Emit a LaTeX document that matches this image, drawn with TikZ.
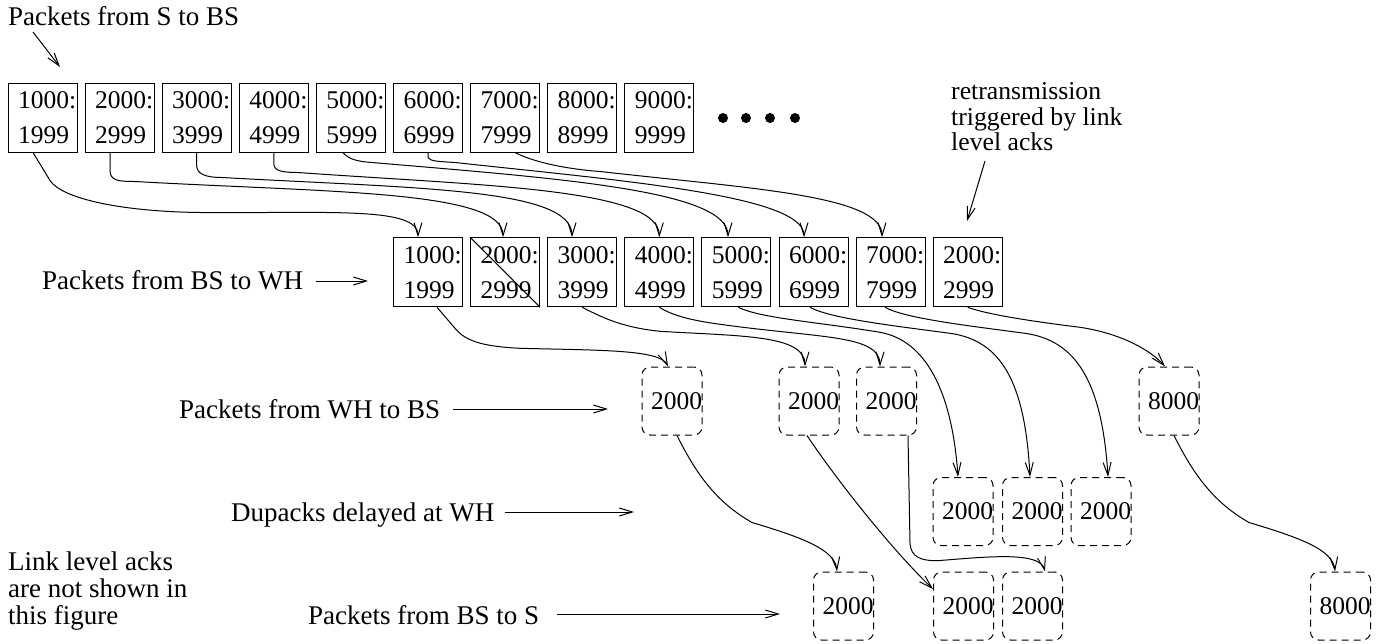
\documentclass[tikz,border=0pt]{standalone}
\usepackage{fontspec}
\setmainfont{Liberation Serif}
\usetikzlibrary{arrows.meta}
\begin{document}
\begin{tikzpicture}[x=1pt,y=-1pt,
  pkt/.style={draw, line width=1pt, minimum width=69pt, minimum height=69pt, inner sep=0pt,
    text width=49pt, align=left, font=\fontsize{25.5}{35}\selectfont},
  ack/.style={draw, dash pattern=on 7pt off 5pt, rounded corners=8pt, line width=1pt,
    minimum width=60pt, minimum height=68pt, inner sep=0pt, text width=42pt, align=left,
    font=\fontsize{25.5}{30}\selectfont},
  lbl/.style={font=\fontsize{27}{27}\selectfont, inner sep=0pt},
  arr/.style={line width=1pt, -{Straight Barb[length=13pt,width=8pt]}},
  dot/.style={fill=black},
]
\useasboundingbox (0,0) rectangle (1379,643);

% top row: packets from S to BS
\node[pkt] (t1) at (42.5,117.5) {1000:\\1999};
\node[pkt] (t2) at (119.6,117.5) {2000:\\2999};
\node[pkt] (t3) at (196.7,117.5) {3000:\\3999};
\node[pkt] (t4) at (273.8,117.5) {4000:\\4999};
\node[pkt] (t5) at (350.9,117.5) {5000:\\5999};
\node[pkt] (t6) at (428.0,117.5) {6000:\\6999};
\node[pkt] (t7) at (505.1,117.5) {7000:\\7999};
\node[pkt] (t8) at (582.2,117.5) {8000:\\8999};
\node[pkt] (t9) at (659.3,117.5) {9000:\\9999};
\fill[dot] (723,118) circle (5pt);
\fill[dot] (746,118) circle (5pt);
\fill[dot] (770,118) circle (5pt);
\fill[dot] (795,118) circle (5pt);

% middle row: packets from BS to WH
\node[pkt] (m1) at (428.0,272.3) {1000:\\1999};
\node[pkt] (m2) at (505.1,272.3) {2000:\\2999};
\node[pkt] (m3) at (582.2,272.3) {3000:\\3999};
\node[pkt] (m4) at (659.3,272.3) {4000:\\4999};
\node[pkt] (m5) at (736.4,272.3) {5000:\\5999};
\node[pkt] (m6) at (813.5,272.3) {6000:\\6999};
\node[pkt] (m7) at (890.6,272.3) {7000:\\7999};
\node[pkt] (m8) at (967.7,272.3) {2000:\\2999};
\draw[line width=1pt] (m2.north west) -- (m2.south east);

% acks from WH to BS
\node[ack] (h1) at (672,401) {2000};
\node[ack] (h2) at (809,401) {2000};
\node[ack] (h3) at (886.5,401) {2000};
\node[ack] (h4) at (1169,401) {8000};
% dupacks delayed at WH
\node[ack] (w1) at (963,511.5) {2000};
\node[ack] (w2) at (1032.5,511.5) {2000};
\node[ack] (w3) at (1101,511.5) {2000};
% acks from BS to S
\node[ack] (s1) at (843.5,606) {2000};
\node[ack] (s2) at (963.5,606) {2000};
\node[ack] (s3) at (1032.5,606) {2000};
\node[ack] (s4) at (1340.5,606) {8000};

% labels
\node[lbl, anchor=base west] (L1) at (8,25) {Packets from S to BS};
\node[lbl, anchor=base west] (L2) at (42,289) {Packets from BS to WH};
\node[lbl, anchor=base west] (L3) at (179,418) {Packets from WH to BS};
\node[lbl, anchor=base west] (L4) at (231,521) {Dupacks delayed at WH};
\node[lbl, anchor=base west] (L5) at (308,624) {Packets from BS to S};
\node[lbl, anchor=north west, align=left] (L6) at (8,551.6) {Link level acks\\are not shown in\\this figure};
\node[inner sep=0pt, anchor=north west, align=left, font=\fontsize{25.7}{25.5}\selectfont] (L7) at (951,82.4)
  {retransmission\\triggered by link\\level acks};

% label arrows
\coordinate (a1s) at (33,32);   \coordinate (a1e) at (60,67);
\coordinate (a2s) at (316,281); \coordinate (a2e) at (368,281);
\coordinate (a3s) at (453,409); \coordinate (a3e) at (608,409);
\coordinate (a4s) at (505,512); \coordinate (a4e) at (634,512);
\coordinate (a5s) at (557,614); \coordinate (a5e) at (780,614);
\coordinate (a6s) at (985,161); \coordinate (a6e) at (967,221);
\draw[arr] (a1s) -- (a1e);
\draw[arr] (a2s) -- (a2e);
\draw[arr] (a3s) -- (a3e);
\draw[arr] (a4s) -- (a4e);
\draw[arr] (a5s) -- (a5e);
\draw[arr] (a6s) -- (a6e);

% S -> BS -> WH
\draw[arr] ([xshift=-9.5pt]t1.south) -- ++(17,28) .. controls +(12,18) and +(-80,-1) .. ++(150,32)
  .. controls +(130,1) and +(0,-31) .. ([xshift=-10pt]m1.north);
\draw[arr] ([xshift=-9.6pt]t2.south) -- ++(0,18) .. controls +(0,10) and +(-17,0) .. ++(25,11)
  .. controls +(195,11) and +(0,-47) .. ([xshift=-2.1pt]m2.north);
\draw[arr] (t3.south) -- ++(0,13) .. controls +(0,8) and +(-17,0) .. ++(25,12)
  .. controls +(198,11) and +(0,-49) .. ([xshift=-10.2pt]m3.north);
\draw[arr] (t4.south) -- ++(0,11) .. controls +(0,7) and +(-17,0) .. ++(24,9)
  .. controls +(182,13) and +(0,-49) .. (m4.north);
\draw[arr] ([xshift=-8pt]t5.south) .. controls +(6,7) and +(-14,-1) .. ++(29,10)
  .. controls +(188,16) and +(0,-47) .. ([xshift=-8.4pt]m5.north);
\draw[arr] (t6.south) -- ++(0,5) .. controls +(2,4) and +(-15,-1) .. ++(27,5)
  .. controls +(165,18) and +(0,-42) .. ([xshift=-9.5pt]m6.north);
\draw[arr] ([xshift=10pt]t7.south) .. controls +(15,8) and +(-40,-3) .. ++(85,19)
  .. controls +(150,17) and +(0,-42) .. ([xshift=-8.6pt]m7.north);

% WH -> BS acks
\draw[arr] ([xshift=9pt]m1.south) -- ++(18,21) .. controls +(10,12) and +(-40,-2) .. ++(65,20)
  .. controls +(80,2) and +(-8,-17) .. ([xshift=-4pt]h1.north);
\draw[arr] (m3.south) .. controls +(18,9) and +(-40,-4) .. ++(78,24)
  .. controls +(80,5) and +(0,-32) .. ([xshift=-4pt]h2.north);
\draw[arr] (m4.south) .. controls +(13,8) and +(-30,-4) .. ++(61,17)
  .. controls +(100,14) and +(0,-32) .. ([xshift=-6.5pt]h3.north);
\draw[arr] ([xshift=2pt]m5.south) .. controls +(22,11) and +(-60,-10) .. ++(141.6,25)
  .. controls +(45,8) and +(-6,-87) .. ([xshift=-5pt]w1.north);
\draw[arr] ([xshift=-3.5pt]m6.south) .. controls +(20,11) and +(-60,-8) .. ++(140,26)
  .. controls +(50,7) and +(-5,-97) .. ([xshift=-2.5pt]w2.north);
\draw[arr] ([xshift=-5.6pt]m7.south) .. controls +(20,11) and +(-60,-8) .. ++(140,26)
  .. controls +(50,7) and +(-6,-97) .. ([xshift=7pt]w3.north);
\draw[arr] (m8.south) .. controls +(22,8) and +(-40,-5) .. ++(112.3,20)
  .. controls +(40,6) and +(-15,-17) .. ([xshift=-4pt]h4.north);

% BS -> S acks
\draw[arr] ([xshift=5pt]h1.south) .. controls +(20,40) and +(-35,-20) .. ++(75,87)
  .. controls +(50,15) and +(-2,-22) .. ([xshift=-6.5pt]s1.north);
\draw[arr] ([xshift=-2pt]h2.south) .. controls +(30,45) and +(-40,-38) .. ([yshift=17pt]s2.west);
\draw[arr] ([xshift=21.5pt]h3.south) -- ++(2,108) .. controls +(1,13) and +(-20,1) .. ++(30,17)
  .. controls +(50,-4) and +(-5,-20) .. ([xshift=12.5pt]s3.north);
\draw[arr] ([xshift=5pt]h4.south) .. controls +(20,40) and +(-35,-20) .. ++(75,87)
  .. controls +(50,15) and +(-2,-22) .. ([xshift=-5.5pt]s4.north);
\end{tikzpicture}
\end{document}
